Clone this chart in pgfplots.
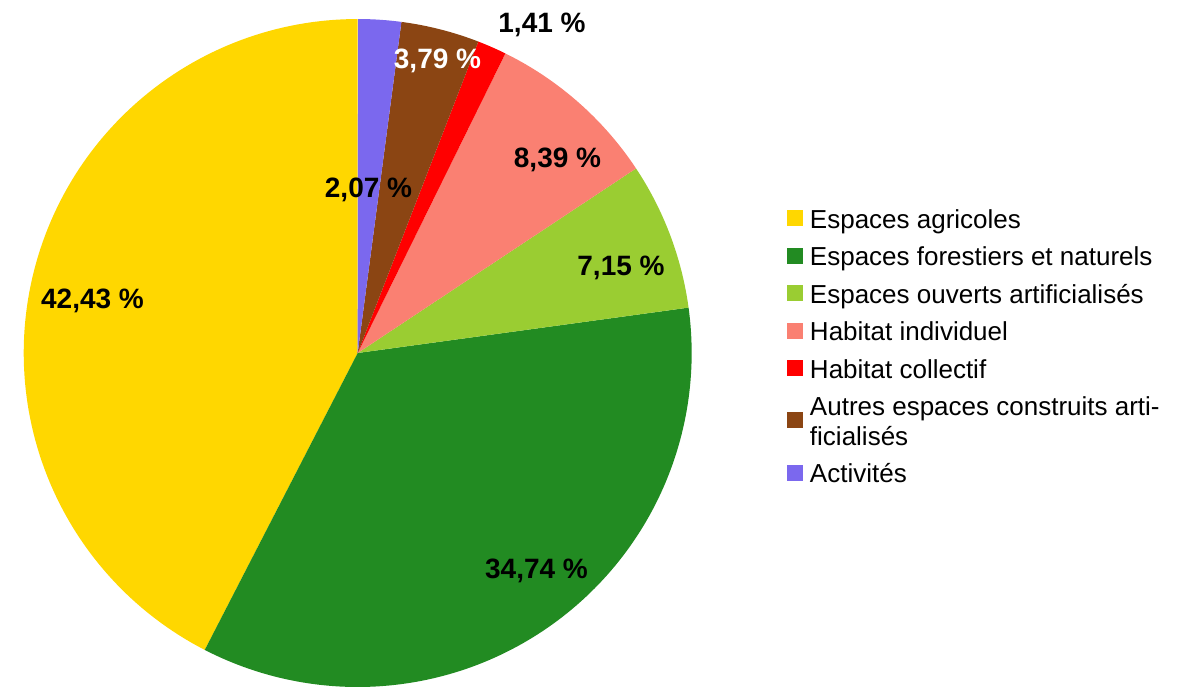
\documentclass[border=0pt]{standalone}
\usepackage{pgfplots}
\pgfplotsset{compat=1.18}
\usepackage{pgfplotstable}
\usepackage{fontspec}
\setmainfont{Liberation Sans}

\definecolor{agri}{HTML}{FFD700}
\definecolor{foret}{HTML}{228B22}
\definecolor{ouvert}{HTML}{9ACD32}
\definecolor{habind}{HTML}{FA8072}
\definecolor{habcol}{HTML}{FF0000}
\definecolor{autres}{HTML}{8B4513}
\definecolor{activ}{HTML}{7B68EE}

% share of each land use, in %
\pgfplotstableread[col sep=comma]{
value,color
42.43,agri
34.74,foret
7.15,ouvert
8.39,habind
1.41,habcol
3.79,autres
2.07,activ
}\piedata

\newcommand\legfont{\fontsize{13bp}{14.75bp}\selectfont}
\newcommand\labfont{\bfseries\fontsize{14bp}{16bp}\selectfont}

\begin{document}
\begin{tikzpicture}
\begin{axis}[
  hide axis, scale only axis, clip=false,
  x=0.5bp, y=0.5bp,
  xmin=0, xmax=1181, ymin=0, ymax=687,
  legend image code/.code={\fill[#1] (0bp,-2.5bp) rectangle (8bp,5.5bp);},
  legend style={at={(axis cs:787,479)}, anchor=north west,
    draw=none, fill=none, inner sep=0pt, outer sep=0pt,
    font=\legfont, row sep=5.75bp, column sep=3.5bp,
    nodes={inner sep=0pt, text height=10bp, text depth=3bp}},
  legend cell align=left,
]
\pgfplotstablegetrowsof{\piedata}
\pgfmathtruncatemacro\nrows{\pgfplotsretval-1}
\gdef\cum{90}
\pgfplotsforeachungrouped \i in {0,...,\nrows}{
  \pgfplotstablegetelem{\i}{value}\of\piedata \let\val\pgfplotsretval
  \pgfplotstablegetelem{\i}{color}\of\piedata \let\col\pgfplotsretval
  \pgfmathsetmacro\angB{\cum+3.6*\val}
  \edef\doslice{\noexpand\addplot[fill=\col, draw=none, domain=\cum:\angB,
    samples=120, variable=\noexpand\t]
    ({357.7+334*cos(\noexpand\t)},{334+334*sin(\noexpand\t)})
    -- (axis cs:357.7,334) -- cycle;}
  \doslice
  \xdef\cum{\angB}
}
\addlegendentry{Espaces agricoles}
\addlegendentry{Espaces forestiers et naturels}
\addlegendentry{Espaces ouverts artificialisés}
\addlegendentry{Habitat individuel}
\addlegendentry{Habitat collectif}
\addlegendentry[text depth=17.75bp]{\begin{tabular}[t]{@{}l@{}}Autres espaces construits arti-\\ficialisés\end{tabular}}
\addlegendentry{Activités}

\node[anchor=base, font=\labfont] at (axis cs:92.5,379) {42,43 \%};
\node[anchor=base, font=\labfont] at (axis cs:536.5,109) {34,74 \%};
\node[anchor=base, font=\labfont] at (axis cs:621,412) {7,15 \%};
\node[anchor=base, font=\labfont] at (axis cs:557.5,520) {8,39 \%};
\node[anchor=base, font=\labfont] at (axis cs:542,655) {1,41 \%};
\node[anchor=base, font=\labfont, text=white] at (axis cs:437.5,619) {3,79 \%};
\node[anchor=base, font=\labfont] at (axis cs:368.5,490) {2,07 \%};
\end{axis}
\pgfresetboundingbox
\path (0,0) rectangle (590.5bp,343.5bp);
\end{tikzpicture}
\end{document}
